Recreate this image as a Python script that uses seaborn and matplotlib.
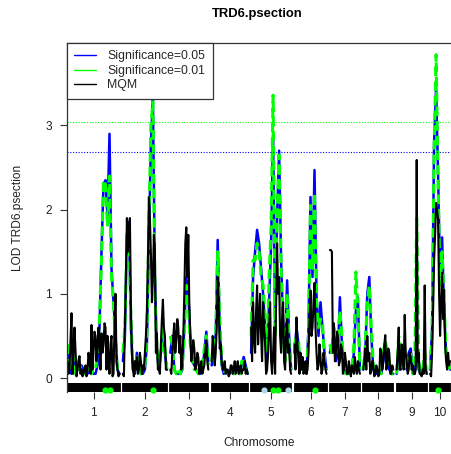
import numpy as np
import pandas as pd
import matplotlib
matplotlib.use("Agg")
import matplotlib.pyplot as plt
import seaborn as sns
from matplotlib.lines import Line2D

sns.set_theme(style="white")
plt.rcParams['font.family'] = ['Liberation Sans', 'DejaVu Sans']

# ---------------- data ----------------
chrom_names = ["1", "2", "3", "4", "5", "6", "7", "8", "9", "10"]
chrom_len = [260, 220, 190, 180, 200, 160, 150, 150, 150, 100]   # cM
gap = 17
step_sig = 10    # cM grid of the significance scans
step_mqm = 5     # cM grid of the MQM scan

black = {
    "1": [0.2, 0.05, 0.1, 0.45, 0.77, 0.05, 0.3, 0.6, 0.33, 0.02, 0.1, 0.2, 0.26, 0.05, 0.1, 0.02,
          0.05, 0.1, 0.15, 0.02, 0.1, 0.3, 0.2, 0.05, 0.63, 0.1, 0.3, 0.55, 0.5, 0.2, 0.4, 0.6,
          0.35, 0.1, 0.53, 0.3, 0.4, 0.65, 0.6, 0.1, 0.5, 0.2, 0.05, 0.4, 0.5, 0.02, 0.05, 0.6,
          1.0, 0.2, 0.1, 0.02, 0.05],
    "2": [0.05, 0.02, 0.6, 1.2, 1.9, 1.5, 1.8, 1.9, 0.85, 0.3, 0.1, 0.02, 0.2, 0.1, 0.25, 0.05,
          0.1, 0.3, 0.2, 0.05, 0.15, 0.1, 0.3, 0.5, 0.8, 1.4, 2.15, 1.9, 1.48, 0.9, 1.2, 1.7,
          1.52, 0.3, 0.53, 0.1, 0.1, 0.05, 0.4, 0.7, 0.93, 0.6, 0.5, 0.1, 0.1],
    "3": [0.1, 0.05, 0.3, 0.5, 0.65, 0.3, 0.45, 0.7, 0.6, 0.3, 0.5, 0.1, 0.2, 0.5, 1.0, 1.6,
          1.79, 1.2, 1.7, 0.9, 0.5, 0.2, 0.3, 0.45, 0.35, 0.1, 0.15, 0.3, 0.25, 0.05, 0.1, 0.2,
          0.05, 0.1, 0.15, 0.3, 0.45, 0.2, 0.1],
    "4": [0.2, 0.5, 0.35, 0.15, 0.3, 0.6, 1.2, 0.9, 0.35, 0.4, 0.2, 0.1, 0.1, 0.2, 0.05, 0.1,
          0.1, 0.02, 0.05, 0.15, 0.15, 0.05, 0.1, 0.2, 0.05, 0.1, 0.2, 0.05, 0.1, 0.15, 0.05,
          0.1, 0.1, 0.2, 0.05, 0.1, 0.05],
    "5": [0.6, 0.2, 0.9, 0.5, 0.3, 0.8, 1.1, 0.4, 0.7, 1.0, 0.5, 0.2, 0.9, 0.6, 0.4, 0.05,
          0.1, 0.3, 0.6, 0.9, 0.2, 0.05, 0.3, 0.6, 0.05, 0.9, 1.6, 1.0, 1.2, 0.5, 0.3, 0.7,
          0.9, 0.2, 0.1, 0.5, 0.7, 0.3, 0.4, 0.1, 0.05],
    "6": [0.4, 0.1, 0.72, 0.4, 0.2, 0.05, 0.3, 0.1, 0.25, 0.05, 0.1, 0.2, 0.05, 0.1, 0.3, 0.7,
          1.04, 0.5, 0.6, 0.9, 1.13, 0.6, 0.3, 0.1, 0.15, 0.4, 0.25, 0.05, 0.1, 0.3, 0.2, 0.1,
          0.05],
    "7": [1.52, 1.52, 1.5, 0.3, 0.65, 0.2, 0.3, 0.55, 0.5, 0.15, 0.2, 0.4, 0.35, 0.05, 0.1, 0.3,
          0.2, 0.05, 0.05, 0.2, 0.1, 0.02, 0.15, 0.1, 0.05, 0.25, 0.1, 0.05, 0.2, 0.1, 0.05],
    "8": [0.1, 0.2, 0.35, 0.1, 0.5, 0.2, 0.3, 0.05, 0.1, 0.2, 0.15, 0.02, 0.05, 0.15, 0.1, 0.02,
          0.05, 0.35, 0.3, 0.1, 0.2, 0.4, 0.51, 0.1, 0.15, 0.35, 0.3, 0.05, 0.05, 0.15, 0.1],
    "9": [0.1, 0.3, 0.6, 0.1, 0.15, 0.4, 0.3, 0.1, 0.75, 0.3, 0.2, 0.05, 0.1, 0.3, 0.25, 0.1,
          0.15, 0.05, 0.05, 0.1, 2.59, 0.2, 0.3, 0.05, 0.05, 0.02, 0.1, 0.05, 1.1, 0.1, 0.05],
    "10": [0.05, 0.02, 0.3, 0.8, 1.4, 1.7, 2.08, 2.0, 1.88, 1.0, 0.5, 0.9, 1.25, 0.7, 1.05, 0.4,
           0.2, 0.1, 0.3, 0.15, 0.2],
}
blue = {
    "1": [0.35, 0.1, 0.05, 0.1, 0.2, 0.1, 0.1, 0.15, 0.1, 0.05, 0.05, 0.1, 0.1, 0.05, 0.05, 0.15, 0.6, 1.5, 2.3, 2.35, 1.9, 2.9, 1.3, 0.9, 0.5, 0.1, 0.05],
    "2": [0.2, 0.5, 1.7, 1.85, 0.6, 0.1, 0.05, 0.3, 0.1, 0.05, 0.05, 0.1, 0.4, 1.6, 2.8, 3.3, 1.2, 0.3, 0.1, 0.3, 0.5, 0.3, 0.1],
    "3": [0.3, 0.5, 0.1, 0.05, 0.05, 0.05, 0.1, 0.6, 1.2, 1.0, 0.5, 0.2, 0.15, 0.1, 0.05, 0.05, 0.1, 0.3, 0.55, 0.2],
    "4": [0.15, 0.4, 0.5, 1.64, 0.6, 0.15, 0.05, 0.1, 0.05, 0.05, 0.1, 0.05, 0.1, 0.1, 0.05, 0.15, 0.25, 0.15, 0.05],
    "5": [0.3, 1.2, 1.5, 1.76, 1.6, 1.3, 1.0, 0.6, 0.2, 0.9, 1.6, 2.9, 0.6, 1.9, 2.7, 1.4, 0.6, 0.3, 1.16, 0.5, 0.1],
    "6": [0.3, 0.6, 0.4, 0.1, 0.2, 0.1, 0.05, 0.6, 2.15, 1.2, 2.47, 1.0, 0.5, 0.9, 0.6, 0.3, 0.1],
    "7": [0.3, 0.4, 0.5, 0.2, 0.3, 0.96, 0.4, 0.1, 0.05, 0.1, 0.05, 0.1, 0.3, 0.8, 0.96, 0.1],
    "8": [0.1, 0.3, 1.0, 1.2, 0.5, 0.1, 0.05, 0.05, 0.1, 0.05, 0.2, 0.3, 0.35, 0.1, 0.05, 0.05],
    "9": [0.05, 0.4, 0.1, 0.15, 0.3, 0.1, 0.3, 0.35, 0.1, 0.05, 0.3, 0.1, 0.05, 0.05, 0.1, 0.05],
    "10": [0.1, 0.6, 2.8, 3.45, 2.4, 1.2, 1.67, 0.8, 0.3, 0.2, 0.1],
}
green = {
    "1": [0.4, 0.15, 0.1, 0.05, 0.25, 0.1, 0.15, 0.1, 0.05, 0.05, 0.1, 0.15, 0.05, 0.1, 0.1, 0.3, 0.7, 1.4, 2.35, 2.3, 1.8, 2.4, 1.2, 0.9, 0.4, 0.1, 0.05],
    "2": [0.3, 0.6, 1.6, 1.8, 0.7, 0.15, 0.1, 0.25, 0.15, 0.05, 0.1, 0.15, 0.5, 1.8, 3.0, 3.28, 1.0, 0.35, 0.15, 0.25, 0.6, 0.35, 0.1],
    "3": [0.5, 0.4, 0.1, 0.05, 0.1, 0.05, 0.15, 0.5, 1.1, 0.9, 0.4, 0.25, 0.1, 0.1, 0.05, 0.1, 0.15, 0.35, 0.5, 0.15],
    "4": [0.2, 0.45, 0.45, 1.5, 0.7, 0.2, 0.05, 0.1, 0.05, 0.1, 0.1, 0.05, 0.15, 0.1, 0.05, 0.2, 0.2, 0.1, 0.05],
    "5": [0.5, 1.4, 1.4, 1.6, 1.5, 1.2, 1.1, 0.7, 0.3, 1.2, 1.8, 3.36, 0.5, 2.0, 2.65, 1.3, 0.5, 0.2, 1.0, 0.4, 0.1],
    "6": [0.4, 0.5, 0.45, 0.1, 0.15, 0.05, 0.1, 0.5, 2.05, 1.3, 2.2, 0.9, 0.6, 0.7, 0.65, 0.2, 0.1],
    "7": [0.4, 0.3, 0.6, 0.3, 0.4, 0.8, 0.5, 0.1, 0.05, 0.05, 0.1, 0.1, 0.4, 1.26, 0.8, 0.1],
    "8": [0.1, 0.4, 0.9, 1.1, 0.6, 0.15, 0.05, 0.1, 0.1, 0.05, 0.3, 0.45, 0.3, 0.2, 0.05, 0.05],
    "9": [0.05, 0.5, 0.1, 0.2, 0.35, 0.1, 0.25, 0.3, 0.05, 0.1, 1.9, 0.2, 0.05, 0.1, 0.3, 0.05],
    "10": [0.1, 0.5, 2.7, 3.84, 2.3, 1.1, 1.5, 0.9, 0.3, 0.2, 0.1],
}
thr_05 = 2.68
thr_01 = 3.04

# selected markers shown as dots under the map (chromosome, cM)
green_dot_chr = ["1", "1", "2", "5", "5", "6", "10"]
green_dot_pos = [187, 212, 150, 110, 135, 102, 40]
lblue_dot_chr = ["5", "5"]
lblue_dot_pos = [65, 185]

# ---------------- build table ----------------
offsets = {}
o = 0
for c, L in zip(chrom_names, chrom_len):
    offsets[c] = o
    o += L + gap

rows = []
for series, d, stp in [("Significance=0.05", blue, step_sig),
                       ("Significance=0.01", green, step_sig),
                       ("MQM", black, step_mqm)]:
    for c in chrom_names:
        for i, v in enumerate(d[c]):
            pos = i * stp
            rows.append(dict(series=series, chr=c, pos=pos, gpos=offsets[c] + pos, lod=v))
df = pd.DataFrame(rows)

# ---------------- figure ----------------
W, H = 452, 454
fig = plt.figure(figsize=(W / 100, H / 100), dpi=100)
ax = fig.add_axes([67 / W, 1 - 392 / H, 1 - 67 / W, (392 - 43) / H])

styles = {
    "Significance=0.05": dict(color="#0000FF", lw=1.8, ls="-"),
    "Significance=0.01": dict(color="#00FF00", lw=2.2, ls=(0, (3.2, 1.6))),
    "MQM": dict(color="black", lw=1.5, ls="-"),
}
for s in ["Significance=0.05", "Significance=0.01", "MQM"]:
    sub = df[df.series == s]
    st = styles[s]
    sns.lineplot(data=sub, x="gpos", y="lod", units="chr", estimator=None, sort=False,
                 color=st["color"], lw=st["lw"], linestyle=st["ls"], ax=ax, legend=False)

ax.axhline(thr_05, color="#0000FF", lw=0.8, ls=(0, (1, 1.5)))
ax.axhline(thr_01, color="#00FF00", lw=0.8, ls=(0, (1, 1.5)))

ymin, ymax = -0.166, 3.979
ax.set_ylim(ymin, ymax)
ax.set_xlim(-2.5, 1922.5)

# marker rug
for c, L in zip(chrom_names, chrom_len):
    xs = offsets[c] + np.arange(0, L + 0.1, 5)
    ax.vlines(xs, ymin, -0.06, color="black", lw=1.3)

# dots
gx = [offsets[c] + p for c, p in zip(green_dot_chr, green_dot_pos)]
bx = [offsets[c] + p for c, p in zip(lblue_dot_chr, lblue_dot_pos)]
ax.scatter(gx, [-0.143] * len(gx), s=20, color="#00FF00", zorder=5, clip_on=False, linewidths=0)
ax.scatter(bx, [-0.143] * len(bx), s=20, color="#ADD8E6", zorder=5, clip_on=False, linewidths=0)

# axes
mids = [offsets[c] + L / 2 for c, L in zip(chrom_names, chrom_len)]
ax.set_xticks(mids)
ax.set_xticklabels(chrom_names)
ax.set_yticks([0, 1, 2, 3])
ax.tick_params(axis="both", direction="out", length=5, width=0.8, colors="#333333",
               labelsize=8.6, labelcolor="#222222", pad=6, left=True, bottom=True)
for sp in ["right", "bottom"]:
    ax.spines[sp].set_visible(False)
for sp in ["left", "top"]:
    ax.spines[sp].set_color("#333333")
    ax.spines[sp].set_linewidth(0.9)

ax.set_xlabel("Chromosome", fontsize=8.6, color="#222222", labelpad=13)
ax.set_ylabel("LOD TRD6.psection", fontsize=8.6, color="#222222", labelpad=15)
fig.text(257 / W, 1 - 14 / H, "TRD6.psection", ha="center", va="center",
         fontsize=9.4, fontweight="bold", color="black")

handles = [Line2D([0], [0], color="#0000FF", lw=1),
           Line2D([0], [0], color="#00FF00", lw=1),
           Line2D([0], [0], color="black", lw=1)]
leg = ax.legend(handles, ["Significance=0.05", "Significance=0.01", "MQM"],
                loc="upper left", bbox_to_anchor=(0, 1), borderaxespad=0,
                fontsize=8.8, frameon=True, fancybox=False, framealpha=1,
                edgecolor="#333333", handlelength=1.8, handletextpad=0.9,
                labelspacing=0.2, borderpad=0.6)
leg.get_frame().set_linewidth(0.9)
leg.set_zorder(10)

fig.savefig("out.png", dpi=100)
